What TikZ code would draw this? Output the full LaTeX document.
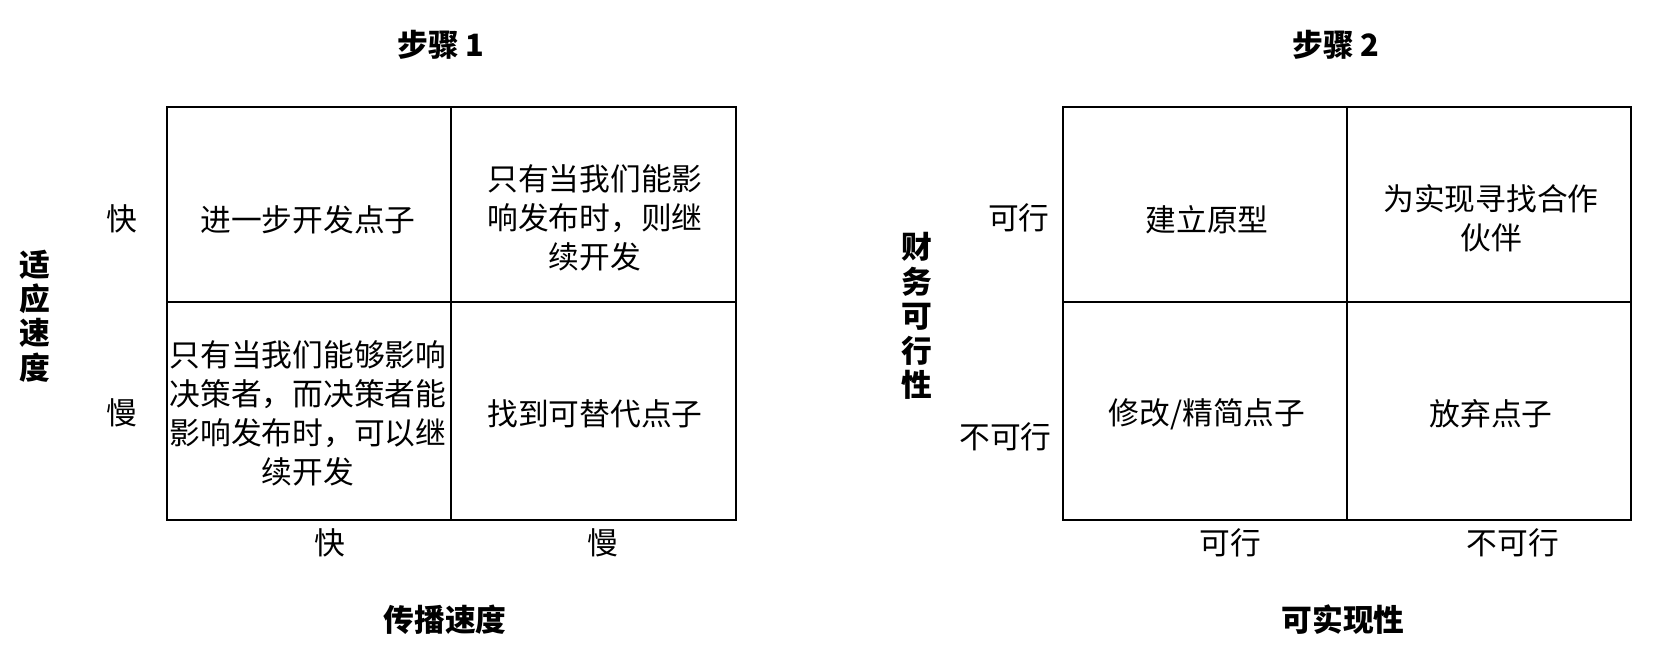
\documentclass[tikz,border=0pt]{standalone}
\usepackage{fontspec}
\setmainfont{Noto Sans CJK SC}
\begin{document}
\begin{tikzpicture}[x=0.2mm,y=-0.2mm,
  every node/.style={font=\fontsize{17.5}{22.2}\selectfont,align=center,inner sep=0pt},
  heading/.style={font=\fontsize{17.5}{19.6}\selectfont\bfseries}]
\useasboundingbox (0,0) rectangle (1662,660);

% step 1 grid
\draw [line width=1.3pt] (167,107) rectangle (736,520);
\draw [line width=1.3pt] (451,107) -- (451,520);
\draw [line width=1.3pt] (167,302) -- (736,302);
\node [heading] (stepone) at (441,45) {步骤 1};
\node [heading] (spreadaxis) at (445,620) {传播速度};
\node [heading] (adaptaxis) at (35,316) {适\\应\\速\\度};
\node (rowfast) at (122,219) {快};
\node (rowslow) at (122,413) {慢};
\node (colfast) at (330,543) {快};
\node (colslow) at (603,543) {慢};
\node (developidea) at (308,220) {进一步开发点子};
\node (ifrelease) at (595,218) {只有当我们能影\\响发布时，则继\\续开发};
\node (ifdecide) at (308,413) {只有当我们能够影响\\决策者，而决策者能\\影响发布时，可以继\\续开发};
\node (altidea) at (595,414) {找到可替代点子};

% step 2 grid
\draw [line width=1.3pt] (1063,107) rectangle (1631,520);
\draw [line width=1.3pt] (1347,107) -- (1347,520);
\draw [line width=1.3pt] (1063,302) -- (1631,302);
\node [heading] (steptwo) at (1336,45) {步骤 2};
\node [heading] (realaxis) at (1343,620) {可实现性};
\node [heading] (financeaxis) at (917,316) {财\\务\\可\\行\\性};
\node [anchor=east] (rowok) at (1050,218) {可行};
\node [anchor=east] (rowno) at (1052,437) {不可行};
\node (colok) at (1230,543) {可行};
\node (colno) at (1513,543) {不可行};
\node (prototype) at (1207,220) {建立原型};
\node (partner) at (1491,218) {为实现寻找合作\\伙伴};
\node (refine) at (1207,414) {修改/精简点子};
\node (dropidea) at (1491,414) {放弃点子};
\end{tikzpicture}
\end{document}
